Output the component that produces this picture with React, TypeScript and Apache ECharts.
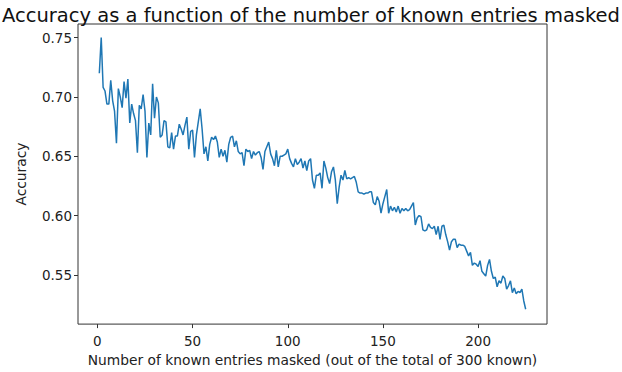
import React, { useEffect, useRef } from "react";
import * as echarts from "echarts";

const TITLE = "Accuracy as a function of the number of known entries masked";
const X_LABEL = "Number of known entries masked (out of the total of 300 known)";
const Y_LABEL = "Accuracy";
const X_TICKS = [0, 50, 100, 150, 200];
const Y_TICKS = [0.55, 0.6, 0.65, 0.7, 0.75];

const accuracy = [
  0.720, 0.750, 0.708, 0.705, 0.694, 0.694, 0.714, 0.697, 0.688, 0.661,
  0.707, 0.700, 0.691, 0.713, 0.699, 0.715, 0.678, 0.694, 0.686, 0.680,
  0.653, 0.693, 0.690, 0.702, 0.688, 0.649, 0.678, 0.668, 0.711, 0.682,
  0.700, 0.695, 0.666, 0.668, 0.680, 0.679, 0.658, 0.657, 0.670, 0.656,
  0.667, 0.667, 0.677, 0.673, 0.668, 0.676, 0.683, 0.656, 0.671, 0.672,
  0.649, 0.668, 0.679, 0.690, 0.673, 0.652, 0.658, 0.646, 0.660, 0.666,
  0.664, 0.667, 0.662, 0.649, 0.656, 0.650, 0.655, 0.645, 0.660, 0.666,
  0.667, 0.658, 0.663, 0.654, 0.652, 0.653, 0.642, 0.656, 0.654, 0.655,
  0.648, 0.654, 0.651, 0.653, 0.654, 0.649, 0.639, 0.654, 0.658, 0.662,
  0.652, 0.648, 0.642, 0.655, 0.641, 0.650, 0.650, 0.651, 0.652, 0.656,
  0.648, 0.644, 0.641, 0.648, 0.643, 0.645, 0.648, 0.640, 0.646, 0.638,
  0.646, 0.648, 0.630, 0.623, 0.634, 0.634, 0.636, 0.623, 0.646, 0.640,
  0.632, 0.627, 0.637, 0.641, 0.630, 0.610, 0.624, 0.634, 0.630, 0.638,
  0.631, 0.632, 0.631, 0.632, 0.633, 0.628, 0.620, 0.619, 0.619, 0.618,
  0.619, 0.619, 0.620, 0.620, 0.611, 0.609, 0.616, 0.612, 0.602, 0.610,
  0.616, 0.622, 0.602, 0.608, 0.604, 0.607, 0.603, 0.608, 0.602, 0.606,
  0.604, 0.606, 0.604, 0.605, 0.608, 0.611, 0.592, 0.598, 0.600, 0.599,
  0.588, 0.587, 0.588, 0.593, 0.590, 0.589, 0.591, 0.584, 0.591, 0.580,
  0.591, 0.592, 0.584, 0.578, 0.571, 0.578, 0.580, 0.580, 0.573, 0.576,
  0.575, 0.575, 0.574, 0.570, 0.566, 0.569, 0.558, 0.560, 0.559, 0.557,
  0.562, 0.553, 0.551, 0.549, 0.558, 0.563, 0.553, 0.547, 0.548, 0.540,
  0.545, 0.543, 0.549, 0.547, 0.538, 0.541, 0.545, 0.535, 0.539, 0.534,
  0.536, 0.535, 0.538, 0.528, 0.521,
];

const maskedCounts = accuracy.map((_, i) => i + 1);

export default function App() {
  const ref = useRef<HTMLDivElement>(null);
  useEffect(() => {
    if (!ref.current) return;
    const chart = echarts.init(ref.current, null, { renderer: "svg" });
    const font = "DejaVu Sans";
    const axisColor = "#333";
    chart.setOption({
      animation: false,
      backgroundColor: "#fff",
      title: {
        text: TITLE,
        left: "center",
        top: 0,
        textStyle: { fontFamily: font, fontSize: 19.5, fontWeight: "normal", color: "#111" },
      },
      grid: {
        left: 78,
        right: 75,
        top: 24,
        bottom: 45,
        show: true,
        borderColor: axisColor,
        borderWidth: 1,
      },
      xAxis: {
        type: "value",
        min: -10.2,
        max: 236.2,
        name: X_LABEL,
        nameLocation: "middle",
        nameGap: 28,
        nameTextStyle: { fontFamily: font, fontSize: 13.8, color: "#222" },
        axisLine: { show: false, onZero: false },
        splitLine: { show: false },
        axisTick: { show: true, length: 4, lineStyle: { color: axisColor }, customValues: X_TICKS },
        axisLabel: {
          fontFamily: font,
          fontSize: 13.5,
          color: "#222",
          margin: 10,
          customValues: X_TICKS,
          formatter: (v: number) => String(v),
        },
      },
      yAxis: {
        type: "value",
        min: 0.5085,
        max: 0.7615,
        name: Y_LABEL,
        nameLocation: "middle",
        nameRotate: 90,
        nameGap: 50,
        nameTextStyle: { fontFamily: font, fontSize: 13.8, color: "#222" },
        axisLine: { show: false, onZero: false },
        splitLine: { show: false },
        axisTick: { show: true, length: 4, lineStyle: { color: axisColor }, customValues: Y_TICKS },
        axisLabel: {
          fontFamily: font,
          fontSize: 13.5,
          color: "#222",
          margin: 6,
          customValues: Y_TICKS,
          formatter: (v: number) => v.toFixed(2),
        },
      },
      series: [
        {
          type: "line",
          data: maskedCounts.map((x, i) => [x, accuracy[i]]),
          showSymbol: false,
          lineStyle: { color: "#1f77b4", width: 1.5 },
          itemStyle: { color: "#1f77b4" },
        },
      ],
    });
    return () => chart.dispose();
  }, []);
  return (
    <div
      ref={ref}
      style={{ position: "fixed", left: 0, top: 0, width: 622, height: 372 }}
    />
  );
}
